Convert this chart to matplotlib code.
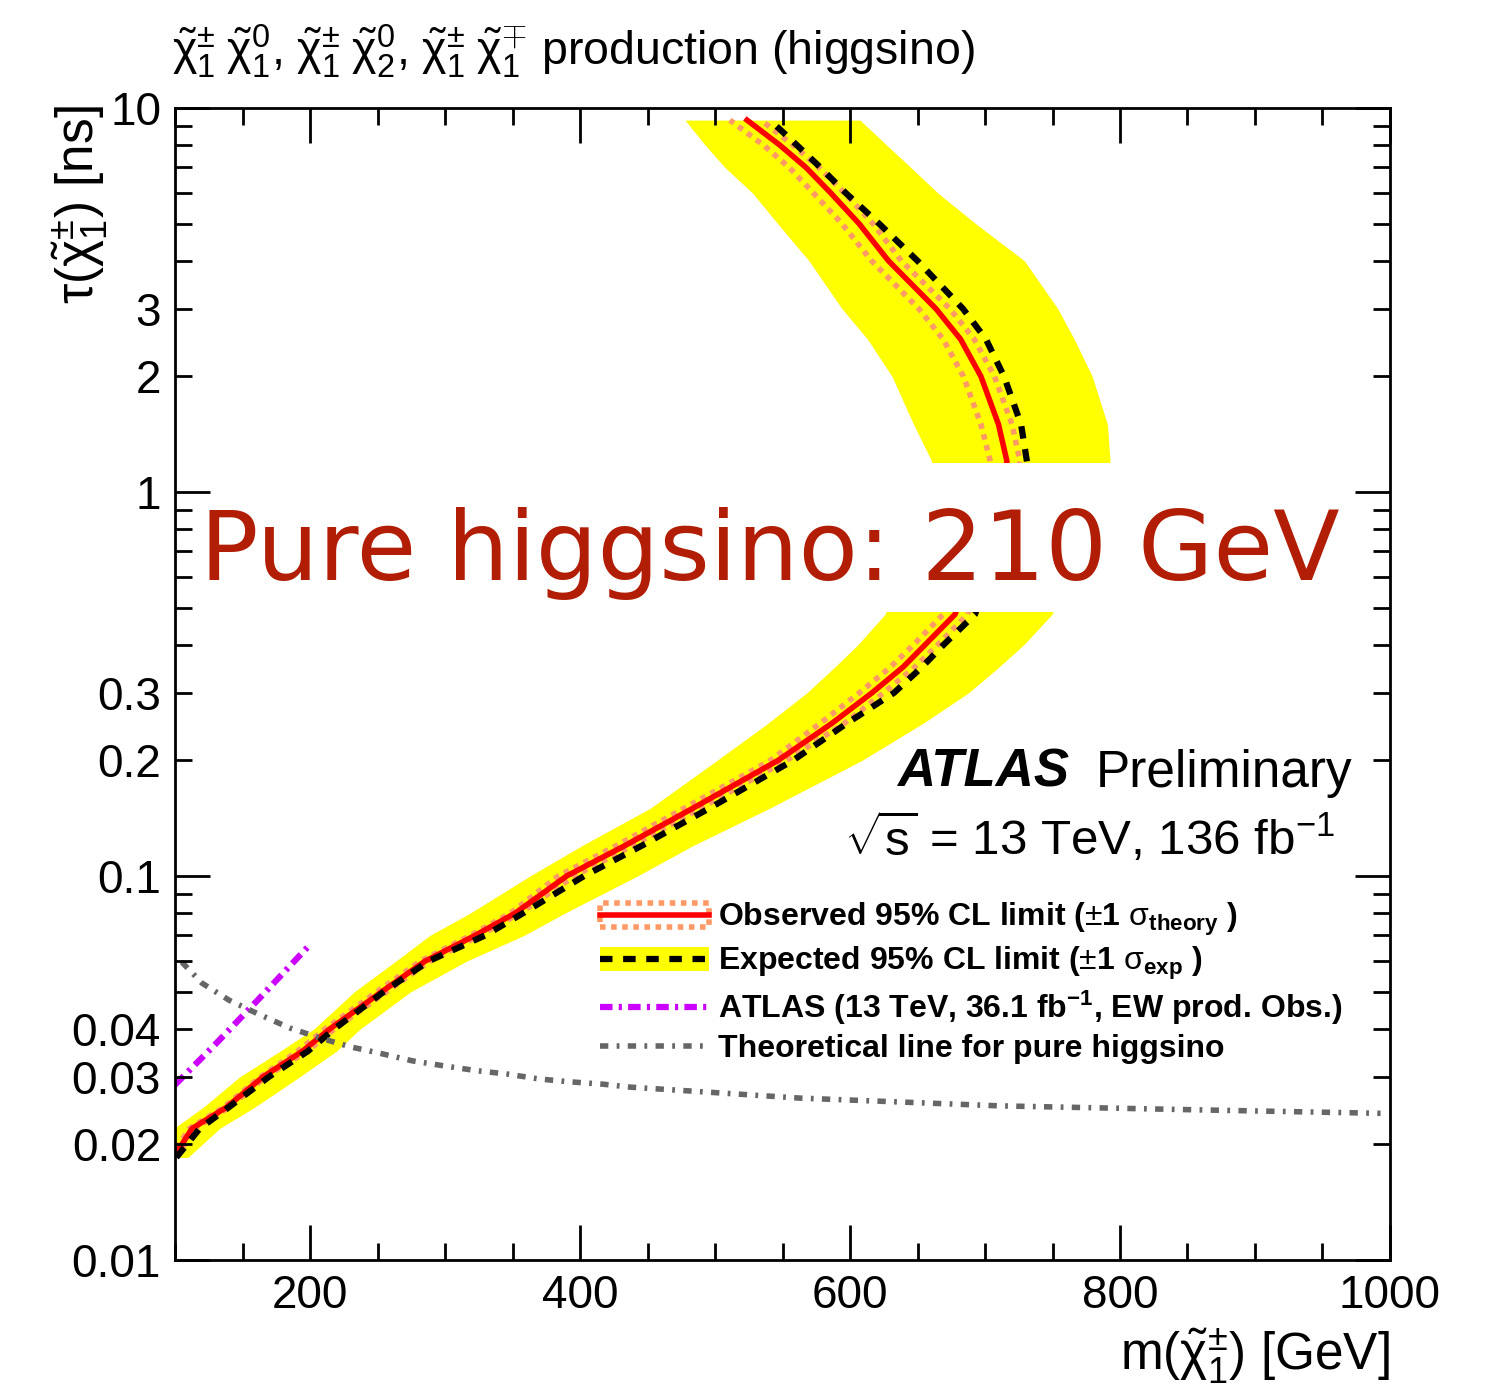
import matplotlib
matplotlib.use("Agg")
import matplotlib.pyplot as plt
from matplotlib.lines import Line2D
from matplotlib.patches import Patch
from matplotlib.legend_handler import HandlerTuple

plt.rcParams['font.family'] = ['Liberation Sans', 'DejaVu Sans']
plt.rcParams['mathtext.fontset'] = 'custom'
plt.rcParams['mathtext.rm'] = 'Liberation Sans'
plt.rcParams['mathtext.it'] = 'Liberation Sans:italic'
plt.rcParams['mathtext.bf'] = 'Liberation Sans:bold'

# lifetime grid (ns) along the exclusion contour, masses in GeV
tau = [0.0185, 0.022, 0.025, 0.03, 0.035, 0.04, 0.05, 0.06, 0.07, 0.08, 0.1, 0.12,
       0.15, 0.2, 0.25, 0.3, 0.35, 0.4, 0.48, 0.75, 1.2, 1.5, 2, 2.5, 3, 4, 5, 6,
       7, 8, 9.3]
m_obs = [99, 112.6, 138.2, 165.2, 194.5, 214.8, 253.3, 285.2, 322.2, 351.9, 390.1,
         433.3, 483.4, 546.7, 586.7, 616.3, 639.3, 655.6, 677.8, 697.8, 716.3, 710,
         697, 681.9, 663.7, 628.5, 606.7, 585.9, 567.4, 548.1, 523.7]
m_obs_th_hi = [101, 114.6, 140.2, 167.2, 198, 218.3, 256.8, 288.7, 325.7, 355.4, 396,
               439, 489, 553, 596, 625, 648, 665, 687, 707, 726, 720, 707, 692, 674,
               638, 617, 596, 577, 558, 534]
m_obs_th_lo = [97, 110.6, 136.2, 163.2, 191, 211.3, 249.8, 281.7, 318.7, 348.4, 384,
               427, 477, 541, 578, 607, 630, 647, 669, 688, 704, 697, 684, 669, 651,
               616, 594, 573, 555, 536, 511]
m_exp = [101, 118.3, 139.9, 169.6, 198.5, 218.1, 254.8, 287.8, 329.6, 357.8, 403,
         445.9, 495.6, 557.8, 597.8, 632.6, 653.3, 669.3, 692.6, 711.1, 731.1, 726.7,
         714.1, 700.7, 683.7, 650, 621.5, 597, 578.1, 560.7, 540.7]
m_exp_lo = [85, 99, 121, 148, 178, 203, 233, 263.5, 288.7, 318.5, 363, 401.5, 451.9,
            501.5, 539.3, 568.1, 588.7, 605.8, 625.9, 644.4, 660.7, 647.1, 631.1, 613,
            594.1, 569.6, 546.4, 527.9, 507.4, 492.8, 477.8]
m_exp_hi = [109.6, 133, 159, 192.4, 219.6, 237.3, 274.8, 315.9, 358.4, 388.6, 442.5,
            483.7, 540.2, 608.8, 654.2, 687.8, 710.3, 728.6, 749.6, 774, 792.6, 790.7,
            779.4, 766.1, 753.9, 729.2, 693, 665.2, 645, 627.2, 607.4]

# previous ATLAS result (36.1 fb-1)
m_prev = [100, 130, 160, 199]
tau_prev = [0.0286, 0.0365, 0.047, 0.0657]

# theoretical lifetime for pure higgsino
m_theo = [105, 120, 140, 163, 185, 207, 230, 254, 276, 300, 324, 346, 370, 393, 417,
          437, 563, 711, 859, 993]
tau_theo = [0.0597, 0.0526, 0.0475, 0.0435, 0.0402, 0.0379, 0.0359, 0.0344, 0.0330,
            0.0320, 0.0311, 0.0305, 0.0296, 0.0291, 0.0287, 0.0282, 0.0264, 0.0252,
            0.0246, 0.0241]

# region blanked out behind the annotation
blank_lo, blank_hi = 0.487, 1.19

ylabels = {0.01: '0.01', 0.02: '0.02', 0.03: '0.03', 0.04: '0.04', 0.1: '0.1',
           0.2: '0.2', 0.3: '0.3', 1: '1', 2: '2', 3: '3', 10: '10'}

RED, ORANGE, YELLOW, MAGENTA, GREY = '#ff0000', '#ff9966', '#ffff00', '#cc00ff', '#666666'
dash_exp = (2.0, 1.7)
dash_th = (1, 1)
dash_prev = (2.0, 1.0, 0.5, 1.0)
dash_theo = (1.5, 1.5, 0.5, 1.5)

fig = plt.figure(figsize=(15.11, 13.87), dpi=100)
ax = fig.add_axes([0.11582, 0.09156, 0.80410, 0.83057])

ax.fill_betweenx(tau, m_exp_lo, m_exp_hi, color=YELLOW, lw=0, zorder=1)
ax.plot(m_obs_th_lo, tau, color=ORANGE, lw=4, dashes=dash_th, zorder=2)
ax.plot(m_obs_th_hi, tau, color=ORANGE, lw=4, dashes=dash_th, zorder=2)
ax.plot(m_obs, tau, color=RED, lw=4, zorder=2.05)
ax.plot(m_exp, tau, color='black', lw=4.5, dashes=dash_exp, zorder=2.1)
ax.plot(m_prev, tau_prev, color=MAGENTA, lw=4.5, dashes=dash_prev, zorder=2.1)
ax.plot(m_theo, tau_theo, color=GREY, lw=4, dashes=dash_theo, zorder=2.1)
ax.axhspan(blank_lo, blank_hi, color='white', lw=0, zorder=2.3)

ax.set_xlim(100, 1000)
ax.set_yscale('log')
ax.set_ylim(0.01, 10)
ax.set_xticks([200, 400, 600, 800, 1000])
ax.set_xticks(range(100, 1001, 50), minor=True)
ax.set_yticks([0.01, 0.1, 1, 10], ['0.01', '0.1', '1', '10'])
minors = [k * 10.0 ** e for e in (-2, -1, 0) for k in range(2, 10)]
ax.set_yticks(minors, [ylabels.get(round(v, 4), '') for v in minors], minor=True)
ax.set_axisbelow(False)
ax.tick_params(which='both', direction='in', top=True, right=True, width=2,
               labelsize=33, pad=10)
ax.tick_params(which='major', length=25)
ax.tick_params(which='minor', length=12.5)
for s in ax.spines.values():
    s.set_linewidth(2)

fig.text(0.1138, 0.9531, r"$\tilde{\mathrm{\chi}}^{\pm}_{1}\;\tilde{\mathrm{\chi}}^{0}_{1}$, "
         r"$\tilde{\mathrm{\chi}}^{\pm}_{1}\;\tilde{\mathrm{\chi}}^{0}_{2}$, "
         r"$\tilde{\mathrm{\chi}}^{\pm}_{1}\;\tilde{\mathrm{\chi}}^{\mp}_{1}$ production (higgsino)",
         fontsize=33.5, ha='left', va='baseline')
fig.text(0.9199, 0.0123, r"m($\tilde{\mathrm{\chi}}^{\pm}_{1}$) [GeV]", fontsize=37,
         ha='right', va='baseline')
fig.text(0.053, 0.9243, r"$\mathrm{\tau}(\tilde{\mathrm{\chi}}^{\pm}_{1})$ [ns]", fontsize=37,
         rotation=90, ha='center', va='top')

fig.text(0.5936, 0.4326, 'ATLAS', fontsize=38, fontweight='bold', fontstyle='italic',
         ha='left', va='baseline')
fig.text(0.8954, 0.4326, 'Preliminary', fontsize=37, ha='right', va='baseline')
fig.text(0.8835, 0.3836, r"$\sqrt{\mathrm{s}}$ = 13 TeV, 136 fb$^{\mathrm{-1}}$", fontsize=35.5,
         ha='right', va='baseline')

fig.text(0.5096, 0.5818, 'Pure higgsino: 210 GeV', fontsize=70, color='#b21e05',
         family='DejaVu Sans', ha='center', va='baseline', zorder=5)

h_obs = (Patch(facecolor='none', edgecolor=ORANGE, linestyle=(0, dash_th), linewidth=4),
         Line2D([], [], color=RED, lw=4))
h_exp = (Patch(facecolor=YELLOW, edgecolor='none'),
         Line2D([], [], color='black', lw=4.5, dashes=dash_exp))
h_prev = Line2D([], [], color=MAGENTA, lw=4.5, dashes=dash_prev)
h_theo = Line2D([], [], color=GREY, lw=4, dashes=dash_theo)
labels = [r"Observed 95% CL limit ($\pm$1 $\mathrm{\sigma}_{\mathbf{theory}}$ )",
          r"Expected 95% CL limit ($\pm$1 $\mathrm{\sigma}_{\mathbf{exp}}$ )",
          r"ATLAS (13 TeV, 36.1 fb$^{\mathbf{-1}}$, EW prod. Obs.)",
          "Theoretical line for pure higgsino"]
leg = ax.legend([h_obs, h_exp, h_prev, h_theo], labels,
                handler_map={tuple: HandlerTuple(ndivide=1, pad=0)},
                loc='upper left', bbox_to_anchor=(0.3498, 0.3115), frameon=False,
                borderpad=0, borderaxespad=0, handlelength=3.4, handleheight=0.8,
                handletextpad=0.3, labelspacing=0.21,
                prop={'weight': 'bold', 'size': 23})
leg.set_zorder(4)

fig.savefig('out.png', dpi=100)
